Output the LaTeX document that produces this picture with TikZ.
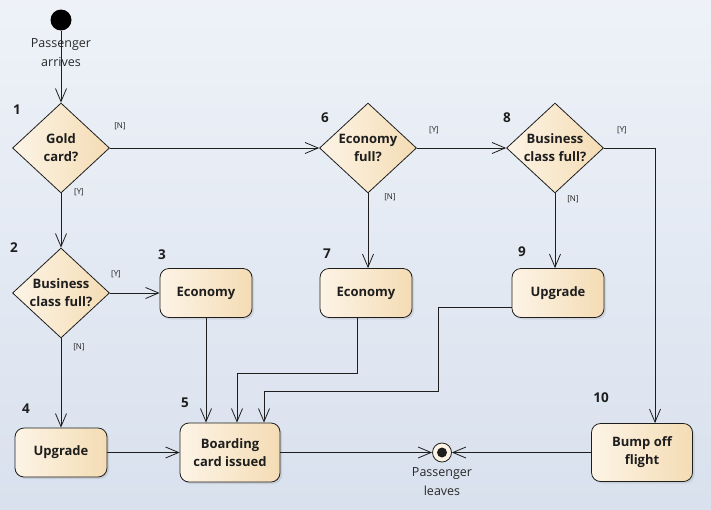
\documentclass[tikz,border=0pt]{standalone}
\usepackage{fontspec}
\setmainfont{Open Sans}
\usetikzlibrary{shapes.geometric, arrows.meta, shadows}

\definecolor{ink}{HTML}{1E1E1E}
\definecolor{creamL}{HTML}{FDF4E6}
\definecolor{creamR}{HTML}{F4DCB4}
\definecolor{bgtop}{HTML}{EEF2F8}
\definecolor{bgbot}{HTML}{D9E1EE}

\begin{document}
\begin{tikzpicture}[
    x=1pt, y=-1pt,
    line width=0.8pt,
    color=ink, % dark ink for lines and text
    action/.style={rectangle, rounded corners=9pt, draw, left color=creamL, right color=creamR,
        minimum width=92pt, minimum height=49pt, align=center,
        font=\bfseries\fontsize{13}{18}\selectfont,
        drop shadow={shadow xshift=2pt, shadow yshift=-2pt, opacity=0.2}},
    decision/.style={diamond, draw, left color=creamL, right color=creamR,
        minimum width=97pt, minimum height=90pt, inner sep=-14pt, align=center,
        font=\bfseries\fontsize{13}{18}\selectfont},
    startnode/.style={circle, fill=black, minimum size=21pt, inner sep=0pt},
    finalnode/.style={circle, draw, fill=creamL, minimum size=19pt, inner sep=0pt,
        path picture={\fill[ink] (path picture bounding box.center) circle (5pt);}},
    stepnum/.style={font=\bfseries\fontsize{13.5}{15}\selectfont},
    guard/.style={font=\fontsize{8}{9}\selectfont},
    caption/.style={font=\fontsize{12.5}{19}\selectfont, align=center, text=ink!95},
    flow/.style={-{Straight Barb[length=13pt, width=11pt]}}
]

    % --- Background ---
    \shade[top color=bgtop, bottom color=bgbot] (0,0) rectangle (711,509);
    \useasboundingbox (0,0) rectangle (711,509);

    % --- Left column ---
    \node[startnode] (start) at (61,20) {};
    \node[caption] (arrive) at (61,53) {Passenger\\arrives};
    \node[decision] (gold) at (61,148) {Gold\\card?};
    \node[decision] (biz2) at (61,293) {Business\\class full?};
    \node[action] (eco3) at (206,293) {Economy};
    \node[action] (up4) at (61,452.5) {Upgrade};
    \node[action, minimum width=100pt, minimum height=59pt] (board) at (230,452.5) {Boarding\\card issued};

    % --- Right part ---
    \node[decision] (ecofull) at (368,148) {Economy\\full?};
    \node[action] (eco7) at (366,293) {Economy};
    \node[decision] (biz8) at (555,148) {Business\\class full?};
    \node[action] (up9) at (558,293) {Upgrade};
    \node[action, minimum width=101pt, minimum height=58pt] (bump) at (642,452.5) {Bump off\\flight};
    \node[finalnode] (leave) at (442,452.5) {};
    \node[caption] (leavetxt) at (442,482) {Passenger\\leaves};

    % --- Step numbers ---
    \node[stepnum] (n1) at (17,110) {1};
    \node[stepnum] (n2) at (14,248) {2};
    \node[stepnum] (n3) at (162,255) {3};
    \node[stepnum] (n4) at (26,409) {4};
    \node[stepnum] (n5) at (185,403) {5};
    \node[stepnum] (n6) at (325,118) {6};
    \node[stepnum] (n7) at (327,254) {7};
    \node[stepnum] (n8) at (507,118) {8};
    \node[stepnum] (n9) at (522,252) {9};
    \node[stepnum] (n10) at (601,398) {10};

    % --- Guards ---
    \node[guard] (g1n) at (120,126) {[N]};
    \node[guard] (g1y) at (79,192) {[Y]};
    \node[guard] (g2y) at (116,274) {[Y]};
    \node[guard] (g2n) at (79,347) {[N]};
    \node[guard] (g6y) at (434,130) {[Y]};
    \node[guard] (g6n) at (390,197) {[N]};
    \node[guard] (g8y) at (622,130) {[Y]};
    \node[guard] (g8n) at (573,199) {[N]};

    % --- Bend points ---
    \coordinate (k7) at (237,373);
    \coordinate (k9) at (438,391);
    \coordinate (k9b) at (264,391);

    % --- Connectors ---
    \draw[flow] (start) -- (gold);
    \draw[flow] (gold) -- (ecofull);
    \draw[flow] (ecofull) -- (biz8);
    \draw[flow] (biz8.east) -| ([xshift=13pt]bump.north);
    \draw[flow] (gold) -- (biz2);
    \draw[flow] (biz2) -- (eco3);
    \draw[flow] (biz2) -- (up4);
    \draw[flow] (ecofull.south) -- (ecofull.south |- eco7.north);
    \draw[flow] (biz8.south) -- (biz8.south |- up9.north);
    \draw[flow] (eco3.south) -- (eco3.south |- board.north);
    \draw[flow] ([xshift=-9pt]eco7.south) |- (k7) -- (k7 |- board.north);
    \draw[flow] ([yshift=-14pt]up9.west) -| (k9) -- (k9b) -- (k9b |- board.north);
    \draw[flow] (up4) -- (board);
    \draw[flow] (board) -- (leave);
    \draw[flow] (bump) -- (leave);

\end{tikzpicture}
\end{document}
